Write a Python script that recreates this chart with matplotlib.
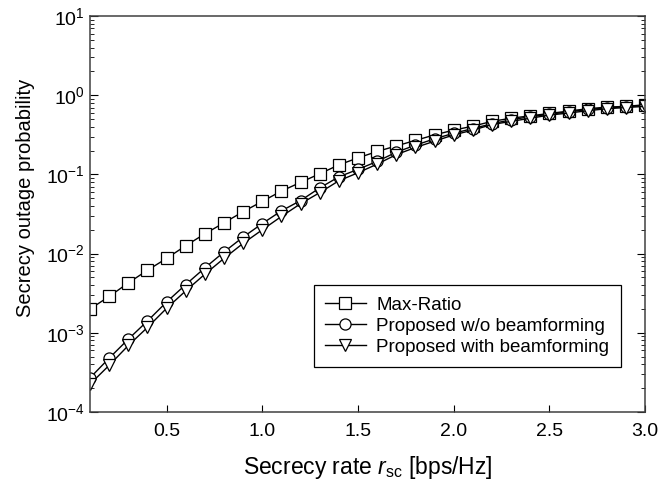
import matplotlib
matplotlib.use("Agg")
import matplotlib.pyplot as plt

rate = [0.1, 0.2, 0.3, 0.4, 0.5, 0.6, 0.7, 0.8, 0.9, 1.0,
        1.1, 1.2, 1.3, 1.4, 1.5, 1.6, 1.7, 1.8, 1.9, 2.0,
        2.1, 2.2, 2.3, 2.4, 2.5, 2.6, 2.7, 2.8, 2.9, 3.0]

max_ratio = [2.0e-3, 2.88e-3, 4.27e-3, 6.17e-3, 8.71e-3, 0.0126, 0.0178, 0.0245, 0.0339, 0.0457,
             0.0617, 0.0794, 0.102, 0.132, 0.162, 0.195, 0.229, 0.269, 0.316, 0.363,
             0.407, 0.468, 0.513, 0.550, 0.589, 0.631, 0.676, 0.708, 0.724, 0.759]

proposed_wo_bf = [2.7e-4, 4.79e-4, 8.32e-4, 1.41e-3, 2.45e-3, 4.07e-3, 6.61e-3, 0.0105, 0.0162, 0.0240,
                  0.0347, 0.0468, 0.0676, 0.0933, 0.116, 0.146, 0.191, 0.234, 0.282, 0.331,
                  0.380, 0.437, 0.490, 0.537, 0.575, 0.617, 0.661, 0.692, 0.716, 0.741]

proposed_bf = [2.25e-4, 3.89e-4, 6.92e-4, 1.17e-3, 2.04e-3, 3.39e-3, 5.50e-3, 8.71e-3, 0.0135, 0.0200,
               0.0295, 0.0427, 0.0589, 0.0832, 0.105, 0.135, 0.178, 0.219, 0.263, 0.316,
               0.363, 0.427, 0.468, 0.513, 0.562, 0.596, 0.638, 0.676, 0.700, 0.724]

labels = ["Max-Ratio", "Proposed w/o beamforming", "Proposed with beamforming"]

plt.rcParams["font.family"] = ["Liberation Sans", "DejaVu Sans"]
plt.rcParams["mathtext.fontset"] = "custom"
plt.rcParams["mathtext.rm"] = "Liberation Sans"
plt.rcParams["mathtext.it"] = "Liberation Sans:italic"
plt.rcParams["mathtext.default"] = "regular"
plt.rcParams["axes.unicode_minus"] = False

fig = plt.figure(figsize=(6.72, 4.87), dpi=100)
ax = fig.add_axes([0.134, 0.154, 0.826, 0.813])

style = dict(color="black", lw=1.0, markersize=8, markerfacecolor="white",
             markeredgecolor="black", markeredgewidth=0.9)
ax.plot(rate, max_ratio, marker="s", label=labels[0], **style)
ax.plot(rate, proposed_wo_bf, marker="o", label=labels[1], **style)
ax.plot(rate, proposed_bf, marker="v", label=labels[2], **style)

ax.set_yscale("log")
ax.set_xlim(0.1, 3.0)
ax.set_ylim(1e-4, 1e1)
ax.set_xticks([0.5, 1.0, 1.5, 2.0, 2.5, 3.0])
ax.set_xticklabels(["0.5", "1.0", "1.5", "2.0", "2.5", "3.0"])

ax.tick_params(axis="y", which="both", direction="in", left=True, right=True, labelsize=14)
ax.tick_params(axis="y", which="major", length=6)
ax.tick_params(axis="y", which="minor", length=3)
ax.tick_params(axis="x", which="both", direction="in", top=False, length=5, labelsize=14, pad=8)
ax.tick_params(axis="x", which="minor", bottom=False)
for sp in ax.spines.values():
    sp.set_color("#404040")
    sp.set_linewidth(1.1)

ax.set_xlabel(r"Secrecy rate $\mathit{r}_{\rm sc}$ [bps/Hz]", fontsize=16.5, labelpad=10)
ax.set_ylabel("Secrecy outage probability", fontsize=14.5)
ax.yaxis.set_label_coords(-0.1, 0.54)

leg = ax.legend(loc="lower right", bbox_to_anchor=(0.966, 0.1), fontsize=13.5,
                fancybox=False, edgecolor="black", framealpha=1, handlelength=2.2,
                labelspacing=0.2, borderpad=0.6, handletextpad=0.55, borderaxespad=0.3)
leg.get_frame().set_linewidth(0.9)

fig.savefig("out.png", dpi=100)
